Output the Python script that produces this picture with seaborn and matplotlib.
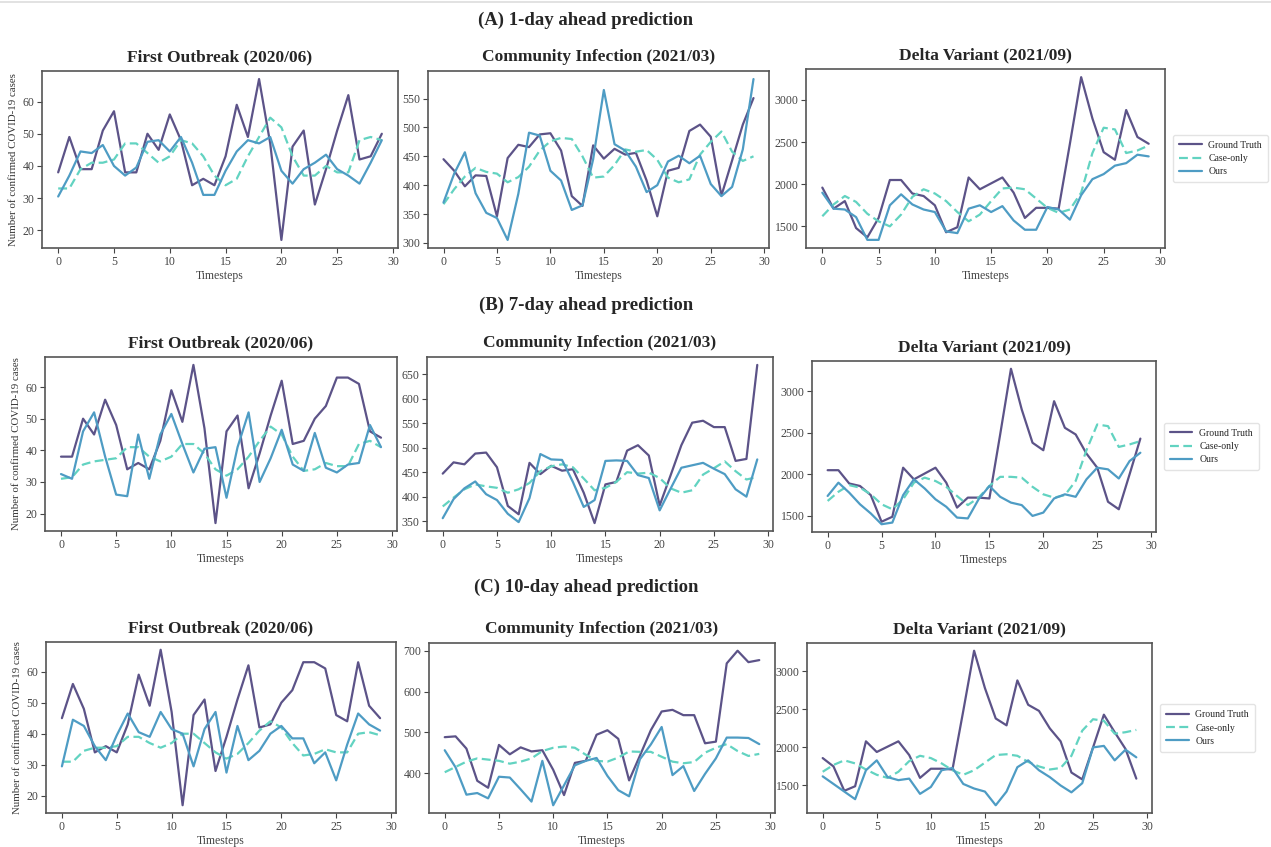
import matplotlib
matplotlib.use("Agg")
import matplotlib.pyplot as plt
from matplotlib.lines import Line2D
from matplotlib.ticker import MultipleLocator
import pandas as pd
import seaborn as sns

timesteps = list(range(30))

waves = ["First Outbreak (2020/06)", "Community Infection (2021/03)", "Delta Variant (2021/09)"]
horizons = ["(A) 1-day ahead prediction", "(B) 7-day ahead prediction", "(C) 10-day ahead prediction"]
series_names = ["Ground Truth", "Case-only", "Ours"]

# ---- First Outbreak (2020/06) ----
first_gt_1d = [38, 49, 39, 39, 51, 57, 38, 38, 50, 45, 56, 48, 34, 36, 34, 43, 59, 49, 67, 47,
               17, 46, 51, 28, 39, 51, 62, 42, 43, 50]
first_case_1d = [33, 33, 39, 41, 41, 42, 47, 47, 44, 41, 43, 48, 47, 43, 37, 34, 36, 43, 49, 55,
                 52, 43, 37, 37, 40, 38, 38, 48, 49, 48]
first_ours_1d = [30.5, 37, 44.5, 44, 46.5, 40, 37, 39.5, 47.5, 48, 44.5, 49, 41, 31, 31, 38.5, 44.5,
                 48, 47, 49, 38.5, 34.5, 39, 41, 43.5, 39, 37, 34.5, 41, 48]

first_gt_7d = [38, 38, 50, 45, 56, 48, 34, 36, 34, 43, 59, 49, 67, 47, 17, 46, 51, 28, 39, 51,
               62, 42, 43, 50, 54, 63, 63, 61, 46, 44]
first_case_7d = [31, 31.5, 35.5, 36.5, 37, 37.5, 41, 41, 38, 36.5, 38, 42, 42, 39, 34, 32, 34, 38,
                 43, 47.5, 45, 38, 33.5, 34, 36, 35, 35, 42, 43, 41]
first_ours_7d = [32.5, 31, 46, 52, 38, 26, 25.5, 45, 31, 45, 51.5, 42, 33, 40.5, 41, 25, 41, 52, 30,
                 37.5, 46.5, 35.5, 33.5, 45.5, 34.5, 33, 35.5, 36, 48, 41]

first_gt_10d = [45, 56, 48, 34, 36, 34, 43, 59, 49, 67, 47, 17, 46, 51, 28, 39, 51, 62, 42, 43,
                50, 54, 63, 63, 61, 46, 44, 63, 49, 45]
first_case_10d = [31, 31, 34.5, 35.5, 35.5, 36, 39, 39, 37, 35.5, 37, 40, 40, 37, 34, 32, 33.5, 37,
                  41, 44, 42, 37, 33, 33.5, 35, 34, 34, 40, 40.5, 39.5]
first_ours_10d = [29.5, 44.5, 42.5, 36, 31.5, 39.5, 46.5, 40.5, 39, 47, 41.5, 40, 29.5, 41.5, 47,
                  27.5, 42.5, 31.5, 34.5, 40, 42.5, 38.5, 38.5, 30.5, 34, 25, 36.5, 46.5, 43, 41]

# ---- Community Infection (2021/03) ----
comm_gt_1d = [445, 425, 398, 417, 416, 346, 447, 470, 466, 488, 490, 460, 381, 364, 469, 446, 463,
              453, 456, 408, 346, 425, 430, 494, 505, 484, 382, 443, 505, 551]
comm_case_1d = [367, 393, 415, 430, 423, 420, 405, 414, 432, 460, 476, 482, 480, 450, 413, 415, 435,
                462, 458, 461, 444, 413, 405, 410, 453, 475, 493, 458, 442, 450]
comm_ours_1d = [370, 420, 457, 386, 352, 343, 305, 385, 491, 486, 425, 408, 357, 365, 445, 565, 471,
                460, 432, 388, 400, 441, 451, 438, 451, 402, 381, 397, 462, 584]

comm_gt_7d = [447, 470, 466, 488, 490, 460, 381, 364, 469, 446, 463, 453, 456, 408, 346, 425, 430,
              494, 505, 484, 382, 443, 505, 551, 555, 542, 542, 473, 477, 669]
comm_case_7d = [380, 398, 415, 425, 421, 418, 408, 415, 428, 452, 462, 466, 460, 437, 413, 418, 430,
                450, 447, 449, 438, 417, 408, 413, 445, 458, 472, 452, 435, 440]
comm_ours_7d = [356, 395, 417, 431, 405, 393, 365, 348, 397, 487, 476, 475, 430, 379, 393, 473, 474,
                473, 444, 438, 372, 416, 459, 464, 469, 457, 446, 415, 400, 476]

comm_gt_10d = [488, 490, 460, 381, 364, 469, 446, 463, 453, 456, 408, 346, 425, 430, 494, 505, 484,
               382, 443, 505, 551, 555, 542, 542, 473, 477, 669, 700, 672, 677]
comm_case_10d = [402, 415, 428, 436, 433, 430, 423, 428, 436, 454, 462, 465, 462, 445, 430, 428, 438,
                 453, 452, 452, 440, 428, 424, 427, 450, 462, 471, 454, 442, 447]
comm_ours_10d = [456, 414, 347, 351, 338, 391, 389, 360, 330, 430, 321, 370, 419, 430, 437, 393, 358,
                 343, 434, 470, 513, 395, 417, 356, 398, 436, 487, 487, 486, 471]

# ---- Delta Variant (2021/09) ----
delta_gt_1d = [1960, 1710, 1800, 1480, 1370, 1600, 2050, 2050, 1890, 1860, 1750, 1430, 1490, 2080,
               1940, 2010, 2080, 1900, 1600, 1720, 1720, 1710, 2480, 3270, 2780, 2380, 2290, 2880,
               2560, 2480]
delta_case_1d = [1620, 1760, 1860, 1790, 1650, 1560, 1500, 1640, 1850, 1940, 1890, 1800, 1670, 1560,
                 1640, 1800, 1950, 1960, 1940, 1830, 1720, 1660, 1700, 1900, 2370, 2670, 2650, 2370,
                 2400, 2460]
delta_ours_1d = [1900, 1710, 1700, 1610, 1340, 1340, 1750, 1880, 1760, 1700, 1670, 1440, 1420, 1710,
                 1750, 1670, 1740, 1570, 1460, 1460, 1730, 1700, 1580, 1870, 2060, 2120, 2220, 2250,
                 2350, 2330]

delta_gt_7d = [2050, 2050, 1890, 1860, 1750, 1430, 1490, 2080, 1940, 2010, 2080, 1900, 1600, 1720,
               1720, 1710, 2480, 3270, 2780, 2380, 2290, 2880, 2560, 2480, 2250, 2080, 1670, 1580,
               2000, 2430]
delta_case_7d = [1680, 1790, 1870, 1840, 1760, 1640, 1580, 1700, 1900, 1960, 1920, 1850, 1740, 1630,
                 1720, 1860, 1970, 1970, 1960, 1850, 1760, 1720, 1750, 1920, 2290, 2600, 2580, 2330,
                 2360, 2400]
delta_ours_7d = [1740, 1900, 1780, 1640, 1530, 1400, 1420, 1750, 1940, 1830, 1700, 1610, 1480, 1470,
                 1700, 1860, 1730, 1660, 1630, 1500, 1540, 1710, 1760, 1730, 1940, 2080, 2060, 1950,
                 2160, 2260]

delta_gt_10d = [1860, 1750, 1430, 1490, 2080, 1940, 2010, 2080, 1900, 1600, 1720, 1720, 1710, 2480,
                3270, 2780, 2380, 2290, 2880, 2560, 2480, 2250, 2080, 1670, 1580, 2000, 2430, 2200,
                1980, 1590]
delta_case_10d = [1680, 1770, 1830, 1790, 1710, 1640, 1600, 1680, 1820, 1890, 1860, 1790, 1700, 1640,
                  1700, 1800, 1900, 1910, 1890, 1810, 1750, 1710, 1730, 1890, 2220, 2370, 2350, 2180,
                  2200, 2230]
delta_ours_10d = [1620, 1520, 1420, 1320, 1700, 1830, 1610, 1570, 1590, 1390, 1480, 1700, 1730, 1520,
                  1460, 1420, 1240, 1420, 1740, 1830, 1700, 1610, 1500, 1410, 1530, 2000, 2020, 1830,
                  1970, 1870]

panels = [
    [(first_gt_1d, first_case_1d, first_ours_1d),
     (comm_gt_1d, comm_case_1d, comm_ours_1d),
     (delta_gt_1d, delta_case_1d, delta_ours_1d)],
    [(first_gt_7d, first_case_7d, first_ours_7d),
     (comm_gt_7d, comm_case_7d, comm_ours_7d),
     (delta_gt_7d, delta_case_7d, delta_ours_7d)],
    [(first_gt_10d, first_case_10d, first_ours_10d),
     (comm_gt_10d, comm_case_10d, comm_ours_10d),
     (delta_gt_10d, delta_case_10d, delta_ours_10d)],
]

# y tick spacing for each row / column
ytick_steps = [
    [10, 50, 500],
    [10, 50, 500],
    [10, 100, 500],
]

colors = {"Ground Truth": "#5c5388", "Case-only": "#62d3c1", "Ours": "#4e9cc4"}
dashes = {"Ground Truth": "", "Case-only": (4, 2), "Ours": ""}

sns.set_theme(style="white")
plt.rcParams["font.family"] = ["Liberation Serif", "DejaVu Serif"]
plt.rcParams.update({
    "xtick.bottom": True, "ytick.left": True,
    "xtick.major.size": 3.5, "ytick.major.size": 3.5,
    "xtick.major.width": 0.8, "ytick.major.width": 0.8,
    "xtick.color": "#444444", "ytick.color": "#444444",
    "xtick.labelsize": 8.5, "ytick.labelsize": 8.5,
    "axes.edgecolor": "#555555", "axes.linewidth": 1.2,
})

W, H = 1271, 847
fig = plt.figure(figsize=(W / 100, H / 100), dpi=100)

# axes boxes in pixels: (left, top, right, bottom) per row and column
boxes = [
    [(42, 71, 398, 248), (428, 71, 769, 248), (806, 69, 1165, 248)],
    [(45, 357, 397, 531), (427, 357, 773, 531), (812, 361, 1156, 532)],
    [(46, 642, 396, 813), (429, 643, 775, 813), (807, 643, 1152, 813)],
]
row_title_y = [20, 305, 587]

# thin rule across the top
fig.add_artist(Line2D([0, 1], [1 - 2 / H, 1 - 2 / H], color="#dddddd", lw=1.2,
                      transform=fig.transFigure))

for r in range(3):
    fig.text(586 / W, 1 - row_title_y[r] / H, horizons[r], ha="center", va="center",
             fontsize=13.5, fontweight="bold")
    for c in range(3):
        l, t, rr, b = boxes[r][c]
        ax = fig.add_axes([l / W, 1 - b / H, (rr - l) / W, (b - t) / H])
        gt, case, ours = panels[r][c]
        df = pd.DataFrame({
            "Timesteps": timesteps * 3,
            "value": gt + case + ours,
            "series": [s for s in series_names for _ in timesteps],
        })
        sns.lineplot(data=df, x="Timesteps", y="value", hue="series", style="series",
                     palette=colors, dashes=dashes, linewidth=1.6, ax=ax,
                     legend=(c == 2))
        ax.set_title(waves[c], fontsize=12.5, fontweight="bold", pad=7)
        ax.set_xlabel("Timesteps", fontsize=8.5, color="#444444", labelpad=2)
        if c == 0:
            ax.set_ylabel("Number of confirmed COVID-19 cases", fontsize=7.8, color="#333333",
                          labelpad=3)
        else:
            ax.set_ylabel("")
        ax.set_xticks([0, 5, 10, 15, 20, 25, 30])
        ax.yaxis.set_major_locator(MultipleLocator(ytick_steps[r][c]))
        ax.tick_params(pad=2)
        for sp in ax.spines.values():
            sp.set_visible(True)
        if c == 2:
            ax.legend(loc="center left", bbox_to_anchor=(1.01, 0.5), fontsize=7,
                      frameon=True, handlelength=2.3, handletextpad=0.7, borderpad=0.6,
                      labelspacing=0.45, edgecolor="#dddddd")

fig.savefig("out.png", dpi=100, facecolor="white")
